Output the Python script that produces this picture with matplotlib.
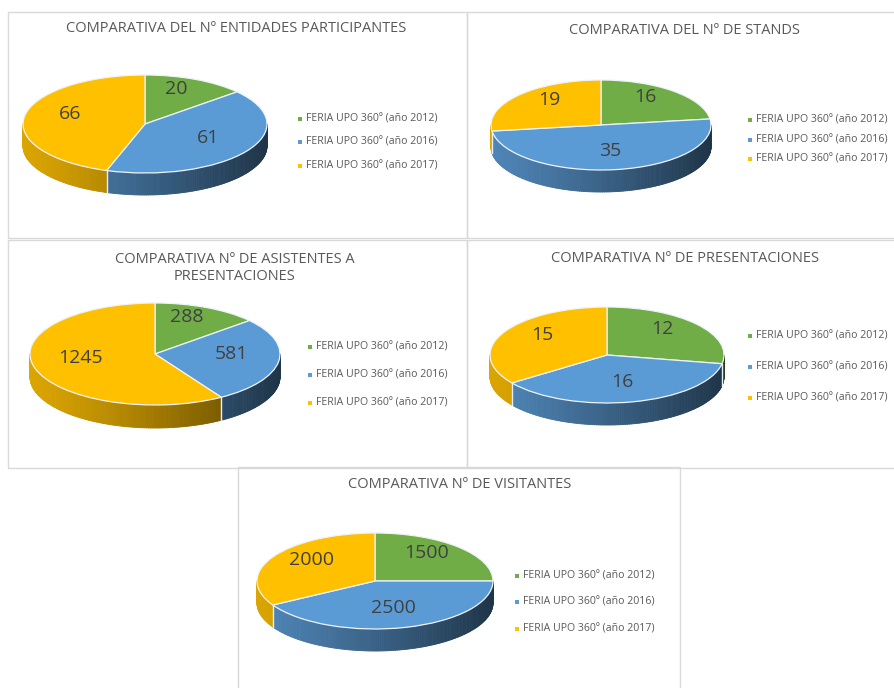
import matplotlib
matplotlib.use("Agg")
import matplotlib.pyplot as plt
import numpy as np
from matplotlib.collections import PolyCollection
from matplotlib.patches import Rectangle
from matplotlib.colors import to_rgb

# ---------------- data ----------------
series = ["FERIA UPO 360º (año 2012)", "FERIA UPO 360º (año 2016)", "FERIA UPO 360º (año 2017)"]
entidades = [20, 61, 66]
stands = [16, 35, 19]
asistentes = [288, 581, 1245]
presentaciones = [12, 16, 15]
visitantes = [1500, 2500, 2000]
titles = [
    "COMPARATIVA DEL Nº ENTIDADES PARTICIPANTES",
    "COMPARATIVA DEL Nº DE STANDS",
    "COMPARATIVA Nº DE ASISTENTES A\nPRESENTACIONES",
    "COMPARATIVA Nº DE PRESENTACIONES",
    "COMPARATIVA Nº DE VISITANTES",
]
colors = ["#70AD47", "#5B9BD5", "#FFC000"]

# ---------------- layout (pixels) ----------------
W, H = 895, 688
FONT = ["Open Sans", "DejaVu Sans"]
TXT = "#595959"

layout = [
    dict(box=(8, 12, 467, 238), title=(236, 29), pie=(145, 124, 122, 49, 22), leg=(300, [119, 142, 166])),
    dict(box=(467, 12, 897, 238), title=(684, 30), pie=(601, 125, 110, 45, 22), leg=(750, [120, 140, 159])),
    dict(box=(8, 240, 467, 468), title=(235, 268), pie=(155, 354, 125, 51, 23), leg=(310, [347, 375, 403])),
    dict(box=(467, 240, 897, 468), title=(685, 258), pie=(607, 355, 117, 48, 22), leg=(750, [336, 367, 398])),
    dict(box=(238, 467, 680, 700), title=(460, 485), pie=(375, 581, 118, 48, 22), leg=(517, [576, 602, 629])),
]
datasets = [entidades, stands, asistentes, presentaciones, visitantes]

fig = plt.figure(figsize=(W / 100, H / 100), dpi=100)
fig.patch.set_facecolor("white")


def fx(x):
    return x / W


def fy(y):
    return 1 - y / H


def shade(rgb, c):
    # c = cos(angle) in [-1, 1]; lighter at left, darker at right
    f = 0.86 - 0.52 * ((c + 1) / 2) ** 1.2
    return tuple(np.clip(np.array(rgb) * f, 0, 1))


for vals, title, lay in zip(datasets, titles, layout):
    x0, y0, x1, y1 = lay["box"]
    fig.add_artist(Rectangle((fx(x0), fy(y1)), (x1 - x0) / W, (y1 - y0) / H,
                             transform=fig.transFigure, fill=False,
                             edgecolor="#d9d9d9", linewidth=1.0))
    tx, ty = lay["title"]
    fig.text(fx(tx), fy(ty), title, ha="center", va="center", fontsize=10.5,
             color=TXT, family=FONT, linespacing=1.15)

    cx, cy, R, B, D = lay["pie"]
    pad = 4
    left, right = cx - R - pad, cx + R + pad
    top, bottom = cy - B - pad, cy + B + D + pad
    ax = fig.add_axes([fx(left), fy(bottom), (right - left) / W, (bottom - top) / H])
    wedges, _ = ax.pie(vals, colors=colors, startangle=90, counterclock=False, radius=1,
                       wedgeprops=dict(edgecolor="#eef3f8", linewidth=0.9))
    ax.set_aspect("auto")
    ax.set_xlim(-(R + pad) / R, (R + pad) / R)
    ax.set_ylim(-(B + D + pad) / B, (B + pad) / B)
    ax.axis("off")
    d = D / B

    polys, pcols = [], []
    seps = []
    for w, col in zip(wedges, colors):
        w.set_zorder(3)
        rgb = to_rgb(col)
        t1, t2 = w.theta1, w.theta2
        for k in (-2, -1, 0, 1, 2):
            a = max(t1, 180 + 360 * k)
            b = min(t2, 360 + 360 * k)
            if b > a:
                ts = np.radians(np.linspace(a, b, max(2, int(b - a) + 1)))
                for u, v in zip(ts[:-1], ts[1:]):
                    polys.append([(np.cos(u), np.sin(u)), (np.cos(v), np.sin(v)),
                                  (np.cos(v), np.sin(v) - d), (np.cos(u), np.sin(u) - d)])
                    pcols.append(shade(rgb, np.cos((u + v) / 2)))
        ang = np.radians(t1)
        if np.sin(ang) < -1e-6:
            seps.append(ang)
    pc = PolyCollection(polys, facecolors=pcols, edgecolors=pcols, linewidths=0.6, zorder=1)
    ax.add_collection(pc)
    for ang in seps:
        ax.plot([np.cos(ang)] * 2, [np.sin(ang), np.sin(ang) - d], color="#e8eef5", lw=1.0, zorder=2)

    for w, v in zip(wedges, vals):
        m = np.radians((w.theta1 + w.theta2) / 2)
        ax.text(0.62 * np.cos(m), 0.68 * np.sin(m) + 0.1, f"{v}", ha="center", va="center",
                fontsize=14, color="#404040", family=FONT, zorder=5)

    mx, rows = lay["leg"]
    for yy, lab, col in zip(rows, series, colors):
        fig.add_artist(Rectangle((fx(mx - 2), fy(yy + 2)), 4 / W, 4 / H,
                                 transform=fig.transFigure, facecolor=col, edgecolor="none"))
        fig.text(fx(mx + 6), fy(yy), lab, ha="left", va="center", fontsize=7.6,
                 color=TXT, family=FONT)

fig.savefig("out.png", dpi=100, facecolor="white")
